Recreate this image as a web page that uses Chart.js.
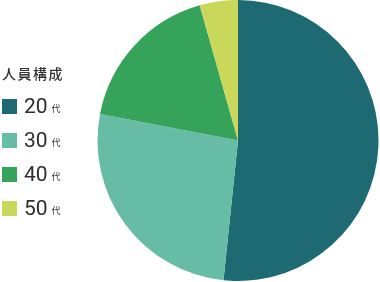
<!DOCTYPE html>
<html>
<head>
<meta charset="utf-8">
<script src="https://cdn.jsdelivr.net/npm/chart.js@4"></script>
<style>
  html, body { margin: 0; padding: 0; background: #fff; }
  #wrap { position: relative; width: 380px; height: 282px; }
  #pie { position: absolute; left: 0; top: 0; }
  #legend { position: absolute; left: 2px; top: 64px; font-family: "Noto Sans CJK JP", "Noto Sans", sans-serif; color: #333; }
  #legend h3 { margin: 0; font-size: 14px; font-weight: 500; letter-spacing: 1.5px; line-height: 18px; }
  .item { display: flex; align-items: center; height: 34px; }
  .item:first-of-type { margin-top: 7px; }
  .box { width: 15px; height: 15px; margin-right: 7px; }
  .num { font-family: Roboto, "Noto Sans", sans-serif; font-size: 21px; line-height: 20px; color: #2e2e2e; }
  .unit { font-size: 9px; margin-left: 4px; margin-top: 4px; }
</style>
</head>
<body>
<div id="wrap">
  <canvas id="pie" width="380" height="282"></canvas>
  <div id="legend"></div>
</div>
<script>
const legendTitle = '人員構成';
const ages = ['20', '30', '40', '50'];
const unit = '代';
const counts = [47, 24, 16, 4];
const colors = ['#1e6a73', '#67bca6', '#35a35a', '#c9d85b'];

// legend (number big, 代 small)
let html = `<h3>${legendTitle}</h3>`;
ages.forEach((a, i) => {
  html += `
    <div class="item">
      <div class="box" style="background:${colors[i]}"></div>
      <span class="num">${a}</span><span class="unit">${unit}</span>
    </div>`;
});
document.getElementById('legend').innerHTML = html;

const ctx = document.getElementById('pie').getContext('2d');
new Chart(ctx, {
  type: 'pie',
  data: {
    labels: ages.map(a => a + unit),
    datasets: [{
      data: counts,
      backgroundColor: colors,
      borderWidth: 0,
      hoverOffset: 0
    }]
  },
  options: {
    responsive: false,
    animation: false,
    layout: { padding: { left: 97, right: 1, top: 0, bottom: 1 } },
    plugins: {
      legend: { display: false },
      tooltip: { enabled: false }
    }
  }
});
</script>
</body>
</html>
